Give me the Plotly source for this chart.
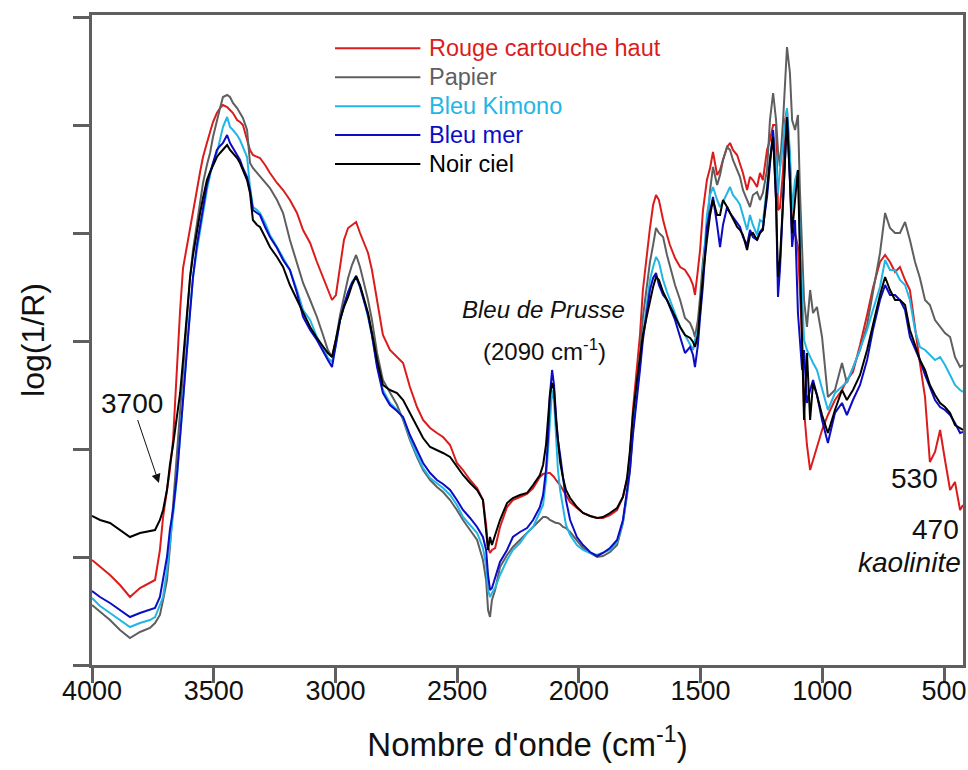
import plotly.graph_objects as go

# wavenumber grid (cm-1)
wavenumber = [
    4000, 3967, 3926, 3885, 3844, 3803, 3762, 3741, 3721, 3708,
    3692, 3680, 3667, 3651, 3638, 3626, 3610, 3597, 3585, 3569,
    3556, 3544, 3528, 3515, 3503, 3487, 3474, 3462, 3445, 3433,
    3421, 3404, 3392, 3380, 3363, 3351, 3339, 3322, 3310, 3289,
    3269, 3240, 3215, 3187, 3158, 3133, 3104, 3076, 3051, 3031,
    3014, 2998, 2981, 2965, 2948, 2932, 2915, 2899, 2883, 2866,
    2850, 2829, 2805, 2776, 2747, 2722, 2694, 2665, 2640, 2611,
    2583, 2558, 2529, 2501, 2476, 2447, 2418, 2394, 2381, 2373,
    2365, 2357, 2344, 2324, 2295, 2271, 2242, 2213, 2188, 2160,
    2147, 2135, 2127, 2119, 2110, 2102, 2094, 2086, 2077, 2065,
    2053, 2036, 2008, 1983, 1954, 1925, 1901, 1872, 1843, 1819,
    1802, 1790, 1778, 1761, 1749, 1737, 1720, 1708, 1695, 1683,
    1671, 1654, 1638, 1626, 1605, 1584, 1564, 1543, 1531, 1523,
    1511, 1502, 1490, 1474, 1461, 1449, 1432, 1420, 1408, 1391,
    1379, 1367, 1350, 1338, 1326, 1309, 1297, 1285, 1268, 1256,
    1244, 1227, 1215, 1202, 1190, 1182, 1174, 1161, 1153, 1145,
    1133, 1124, 1112, 1100, 1092, 1083, 1075, 1063, 1050, 1038,
    1022, 1001, 977, 948, 919, 899, 874, 845, 816, 792,
    763, 742, 722, 701, 681, 660, 640, 619, 599, 578,
    558, 537, 516, 496, 475, 455, 434, 422,
]

# log(1/R), arbitrary offset
rouge_cartouche_haut = [
    0.105, 0.098, 0.090, 0.080, 0.068, 0.077, 0.082, 0.085, 0.115, 0.148,
    0.175, 0.195, 0.225, 0.305, 0.355, 0.397, 0.420, 0.435, 0.455, 0.475,
    0.493, 0.508, 0.522, 0.532, 0.543, 0.552, 0.557, 0.560, 0.558, 0.555,
    0.552, 0.545, 0.543, 0.540, 0.525, 0.515, 0.510, 0.508, 0.507, 0.500,
    0.492, 0.482, 0.475, 0.465, 0.452, 0.435, 0.422, 0.403, 0.388, 0.375,
    0.365, 0.370, 0.400, 0.425, 0.437, 0.440, 0.443, 0.432, 0.422, 0.412,
    0.395, 0.365, 0.330, 0.315, 0.308, 0.302, 0.278, 0.258, 0.245, 0.237,
    0.232, 0.228, 0.220, 0.202, 0.195, 0.185, 0.177, 0.165, 0.140, 0.118,
    0.112, 0.115, 0.117, 0.138, 0.158, 0.165, 0.168, 0.171, 0.177, 0.188,
    0.191, 0.192, 0.192, 0.192, 0.190, 0.188, 0.185, 0.183, 0.180, 0.175,
    0.170, 0.163, 0.157, 0.152, 0.149, 0.147, 0.147, 0.150, 0.155, 0.168,
    0.185, 0.210, 0.255, 0.295, 0.330, 0.375, 0.415, 0.437, 0.460, 0.470,
    0.465, 0.445, 0.430, 0.420, 0.407, 0.398, 0.395, 0.387, 0.380, 0.370,
    0.395, 0.415, 0.455, 0.485, 0.497, 0.513, 0.490, 0.495, 0.505, 0.518,
    0.522, 0.515, 0.510, 0.500, 0.492, 0.475, 0.488, 0.485, 0.478, 0.492,
    0.485, 0.515, 0.525, 0.540, 0.540, 0.455, 0.457, 0.495, 0.545, 0.555,
    0.505, 0.430, 0.432, 0.418, 0.375, 0.325, 0.255, 0.220, 0.195, 0.205,
    0.220, 0.235, 0.250, 0.265, 0.275, 0.285, 0.293, 0.320, 0.350, 0.377,
    0.403, 0.410, 0.403, 0.393, 0.398, 0.385, 0.375, 0.335, 0.302, 0.268,
    0.203, 0.213, 0.235, 0.205, 0.175, 0.183, 0.155, 0.160,
]

papier = [
    0.060, 0.053, 0.045, 0.035, 0.027, 0.033, 0.037, 0.042, 0.050, 0.065,
    0.085, 0.117, 0.160, 0.210, 0.250, 0.295, 0.345, 0.388, 0.415, 0.442,
    0.460, 0.482, 0.500, 0.512, 0.528, 0.545, 0.557, 0.568, 0.570, 0.568,
    0.562, 0.557, 0.552, 0.547, 0.535, 0.502, 0.497, 0.492, 0.488, 0.483,
    0.477, 0.465, 0.452, 0.425, 0.403, 0.382, 0.365, 0.348, 0.330, 0.315,
    0.308, 0.325, 0.350, 0.368, 0.387, 0.400, 0.410, 0.398, 0.382, 0.365,
    0.345, 0.312, 0.285, 0.272, 0.260, 0.245, 0.225, 0.208, 0.195, 0.185,
    0.178, 0.173, 0.165, 0.155, 0.145, 0.135, 0.125, 0.105, 0.085, 0.055,
    0.048, 0.065, 0.075, 0.098, 0.110, 0.118, 0.125, 0.132, 0.138, 0.145,
    0.148, 0.148, 0.147, 0.145, 0.144, 0.143, 0.142, 0.142, 0.141, 0.138,
    0.137, 0.133, 0.125, 0.117, 0.112, 0.108, 0.109, 0.113, 0.120, 0.142,
    0.170, 0.195, 0.235, 0.275, 0.310, 0.348, 0.380, 0.403, 0.420, 0.437,
    0.432, 0.428, 0.410, 0.398, 0.380, 0.365, 0.347, 0.342, 0.335, 0.328,
    0.345, 0.368, 0.405, 0.435, 0.475, 0.498, 0.480, 0.490, 0.505, 0.518,
    0.515, 0.505, 0.495, 0.488, 0.475, 0.465, 0.458, 0.470, 0.473, 0.465,
    0.472, 0.495, 0.545, 0.572, 0.545, 0.515, 0.498, 0.545, 0.590, 0.618,
    0.592, 0.545, 0.535, 0.550, 0.475, 0.415, 0.365, 0.338, 0.375, 0.352,
    0.358, 0.328, 0.268, 0.275, 0.302, 0.282, 0.297, 0.315, 0.340, 0.372,
    0.412, 0.452, 0.437, 0.432, 0.432, 0.443, 0.425, 0.403, 0.387, 0.365,
    0.360, 0.345, 0.338, 0.332, 0.328, 0.308, 0.298, 0.300,
]

bleu_kimono = [
    0.067, 0.059, 0.052, 0.045, 0.038, 0.042, 0.045, 0.048, 0.060, 0.068,
    0.095, 0.125, 0.150, 0.187, 0.225, 0.265, 0.315, 0.355, 0.388, 0.415,
    0.435, 0.455, 0.475, 0.490, 0.502, 0.512, 0.527, 0.538, 0.548, 0.538,
    0.535, 0.530, 0.525, 0.518, 0.508, 0.478, 0.458, 0.455, 0.452, 0.442,
    0.430, 0.418, 0.407, 0.395, 0.375, 0.355, 0.345, 0.328, 0.317, 0.307,
    0.303, 0.320, 0.345, 0.360, 0.373, 0.383, 0.389, 0.378, 0.365, 0.348,
    0.330, 0.300, 0.275, 0.262, 0.255, 0.247, 0.227, 0.210, 0.197, 0.187,
    0.182, 0.177, 0.170, 0.160, 0.148, 0.140, 0.132, 0.117, 0.100, 0.075,
    0.068, 0.072, 0.077, 0.090, 0.105, 0.115, 0.122, 0.132, 0.138, 0.153,
    0.160, 0.185, 0.212, 0.245, 0.275, 0.265, 0.225, 0.195, 0.175, 0.155,
    0.140, 0.130, 0.120, 0.115, 0.112, 0.110, 0.112, 0.115, 0.123, 0.143,
    0.173, 0.200, 0.235, 0.270, 0.300, 0.330, 0.365, 0.385, 0.398, 0.408,
    0.403, 0.385, 0.373, 0.365, 0.352, 0.338, 0.330, 0.320, 0.315, 0.325,
    0.335, 0.350, 0.395, 0.450, 0.470, 0.478, 0.465, 0.458, 0.463, 0.472,
    0.478, 0.470, 0.465, 0.460, 0.450, 0.435, 0.450, 0.440, 0.430, 0.445,
    0.443, 0.480, 0.505, 0.532, 0.505, 0.472, 0.495, 0.525, 0.545, 0.557,
    0.512, 0.455, 0.485, 0.495, 0.428, 0.365, 0.325, 0.315, 0.308, 0.302,
    0.295, 0.275, 0.255, 0.272, 0.278, 0.283, 0.297, 0.315, 0.335, 0.355,
    0.378, 0.405, 0.395, 0.395, 0.385, 0.380, 0.365, 0.335, 0.318, 0.315,
    0.310, 0.305, 0.308, 0.300, 0.290, 0.280, 0.275, 0.273,
]

bleu_mer = [
    0.074, 0.068, 0.062, 0.055, 0.048, 0.052, 0.055, 0.057, 0.068, 0.085,
    0.108, 0.135, 0.155, 0.190, 0.225, 0.265, 0.315, 0.355, 0.388, 0.420,
    0.440, 0.458, 0.480, 0.492, 0.503, 0.515, 0.519, 0.522, 0.530, 0.522,
    0.517, 0.510, 0.505, 0.497, 0.488, 0.475, 0.455, 0.452, 0.450, 0.438,
    0.428, 0.417, 0.405, 0.395, 0.372, 0.348, 0.335, 0.325, 0.313, 0.305,
    0.298, 0.320, 0.345, 0.360, 0.373, 0.382, 0.388, 0.378, 0.365, 0.350,
    0.330, 0.298, 0.272, 0.260, 0.254, 0.248, 0.230, 0.215, 0.202, 0.192,
    0.185, 0.181, 0.175, 0.165, 0.155, 0.147, 0.138, 0.128, 0.115, 0.090,
    0.075, 0.077, 0.087, 0.103, 0.115, 0.128, 0.133, 0.137, 0.145, 0.158,
    0.170, 0.195, 0.225, 0.270, 0.295, 0.280, 0.250, 0.225, 0.210, 0.185,
    0.165, 0.145, 0.128, 0.120, 0.113, 0.109, 0.112, 0.117, 0.125, 0.145,
    0.172, 0.195, 0.230, 0.265, 0.295, 0.325, 0.355, 0.375, 0.387, 0.392,
    0.380, 0.370, 0.365, 0.358, 0.345, 0.328, 0.312, 0.318, 0.310, 0.298,
    0.320, 0.348, 0.380, 0.438, 0.455, 0.468, 0.440, 0.418, 0.440, 0.458,
    0.452, 0.448, 0.443, 0.438, 0.428, 0.420, 0.435, 0.428, 0.425, 0.433,
    0.437, 0.468, 0.500, 0.535, 0.465, 0.368, 0.395, 0.465, 0.515, 0.548,
    0.485, 0.418, 0.445, 0.352, 0.325, 0.295, 0.315, 0.262, 0.275, 0.285,
    0.270, 0.245, 0.222, 0.252, 0.262, 0.250, 0.265, 0.280, 0.305, 0.335,
    0.365, 0.380, 0.370, 0.370, 0.365, 0.355, 0.328, 0.317, 0.305, 0.290,
    0.278, 0.265, 0.258, 0.255, 0.250, 0.242, 0.232, 0.233,
]

noir_ciel = [
    0.149, 0.145, 0.142, 0.135, 0.128, 0.132, 0.134, 0.135, 0.145, 0.155,
    0.175, 0.200, 0.220, 0.250, 0.272, 0.305, 0.350, 0.388, 0.410, 0.435,
    0.452, 0.467, 0.485, 0.493, 0.500, 0.508, 0.512, 0.515, 0.520, 0.515,
    0.512, 0.507, 0.502, 0.495, 0.485, 0.472, 0.445, 0.440, 0.438, 0.428,
    0.418, 0.408, 0.398, 0.380, 0.365, 0.352, 0.338, 0.327, 0.318, 0.312,
    0.308, 0.325, 0.345, 0.358, 0.368, 0.380, 0.389, 0.380, 0.367, 0.352,
    0.332, 0.305, 0.280, 0.275, 0.272, 0.265, 0.252, 0.238, 0.227, 0.218,
    0.215, 0.212, 0.208, 0.198, 0.190, 0.182, 0.175, 0.165, 0.135, 0.115,
    0.128, 0.120, 0.130, 0.145, 0.162, 0.167, 0.170, 0.172, 0.180, 0.190,
    0.200, 0.220, 0.245, 0.270, 0.282, 0.275, 0.245, 0.222, 0.203, 0.187,
    0.175, 0.167, 0.158, 0.152, 0.149, 0.147, 0.148, 0.152, 0.157, 0.168,
    0.187, 0.215, 0.250, 0.285, 0.305, 0.330, 0.350, 0.365, 0.378, 0.388,
    0.385, 0.373, 0.365, 0.358, 0.348, 0.338, 0.330, 0.327, 0.323, 0.318,
    0.330, 0.355, 0.390, 0.425, 0.450, 0.465, 0.450, 0.450, 0.465, 0.458,
    0.452, 0.445, 0.438, 0.435, 0.430, 0.415, 0.430, 0.432, 0.425, 0.432,
    0.435, 0.475, 0.505, 0.528, 0.465, 0.388, 0.405, 0.465, 0.515, 0.548,
    0.485, 0.432, 0.465, 0.495, 0.412, 0.325, 0.245, 0.312, 0.245, 0.282,
    0.270, 0.250, 0.232, 0.255, 0.275, 0.265, 0.275, 0.290, 0.315, 0.340,
    0.370, 0.388, 0.375, 0.365, 0.365, 0.360, 0.335, 0.320, 0.305, 0.295,
    0.280, 0.270, 0.262, 0.258, 0.252, 0.240, 0.237, 0.235,
]

series_names = ["Rouge cartouche haut", "Papier", "Bleu Kimono", "Bleu mer", "Noir ciel"]
series_values = [rouge_cartouche_haut, papier, bleu_kimono, bleu_mer, noir_ciel]
series_colors = ["#dc1c1c", "#5f5f5f", "#22b6e6", "#0c0cc4", "#000000"]

x_ticks = [4000, 3500, 3000, 2500, 2000, 1500, 1000, 500]
y_ticks = [0, 0.108, 0.216, 0.324, 0.432, 0.540, 0.648]

FONT = "Liberation Sans, Arial, sans-serif"
AXIS_GREY = "#5f5f5f"
INK = "#111111"

fig = go.Figure()

for name, vals, col in zip(series_names, series_values, series_colors):
    fig.add_trace(go.Scatter(
        x=wavenumber, y=vals, mode="lines", name=name,
        line=dict(color=col, width=2), showlegend=False,
    ))

# hand-made legend: long line sample + coloured label
for i, (name, col) in enumerate(zip(series_names, series_colors)):
    ly = 0.949 - i * 0.0446
    fig.add_shape(type="line", xref="paper", yref="paper",
                  x0=0.279, x1=0.377, y0=ly, y1=ly,
                  line=dict(color=col, width=2))
    fig.add_annotation(xref="paper", yref="paper", x=0.385, y=ly,
                       text=name, showarrow=False, xanchor="left", yanchor="middle",
                       font=dict(family=FONT, size=23.5, color=col))

# band labels
fig.add_annotation(x=3725, y=0.182, ax=-27, ay=-80, text="3700",
                   showarrow=True, arrowhead=2, arrowsize=1.8, arrowwidth=1,
                   arrowcolor=INK, font=dict(family=FONT, size=28, color=INK))
fig.add_annotation(x=2147, y=0.356, text="<i>Bleu de Prusse</i>", showarrow=False,
                   font=dict(family=FONT, size=24, color=INK))
fig.add_annotation(x=2143, y=0.315, text="(2090 cm<sup>-1</sup>)", showarrow=False,
                   font=dict(family=FONT, size=24, color=INK))
fig.add_annotation(x=516, y=0.187, text="530", showarrow=False, xanchor="right",
                   font=dict(family=FONT, size=28, color=INK))
fig.add_annotation(x=434, y=0.119, text="470", showarrow=False, xanchor="right",
                   yanchor="bottom", borderpad=0,
                   font=dict(family=FONT, size=28, color=INK))
fig.add_annotation(x=426, y=0.119, text="<i>kaolinite</i>", showarrow=False, xanchor="right",
                   yanchor="top", borderpad=0,
                   font=dict(family=FONT, size=28, color=INK))

fig.update_layout(
    width=968, height=770,
    margin=dict(l=92, r=5, t=15, b=105),
    paper_bgcolor="white", plot_bgcolor="white",
    font=dict(family=FONT, color=INK),
    xaxis=dict(
        range=[4000, 422], tickvals=x_ticks, ticks="outside", ticklen=15,
        tickwidth=2.5, tickcolor=AXIS_GREY, showline=True, linewidth=3,
        linecolor=AXIS_GREY, mirror=True, showgrid=False, zeroline=False,
        tickfont=dict(size=27, color=INK), ticklabelstandoff=-15, automargin=False,
        title=dict(text="Nombre d'onde (cm<sup>-1</sup>)", font=dict(size=33), standoff=28),
    ),
    yaxis=dict(
        range=[0, 0.65], tickvals=y_ticks, showticklabels=False, ticks="outside",
        ticklen=16, tickwidth=2.5, tickcolor=AXIS_GREY, showline=True, linewidth=3,
        linecolor=AXIS_GREY, mirror=True, showgrid=False, zeroline=False,
        automargin=False,
        title=dict(text="log(1/R)", font=dict(size=32), standoff=19),
    ),
)

# drop the default 8px page margin so the 968x770 figure fills the window exactly
fig.write_html("out.html", config={"displayModeBar": False},
               post_script="document.body.style.margin = '0';")
